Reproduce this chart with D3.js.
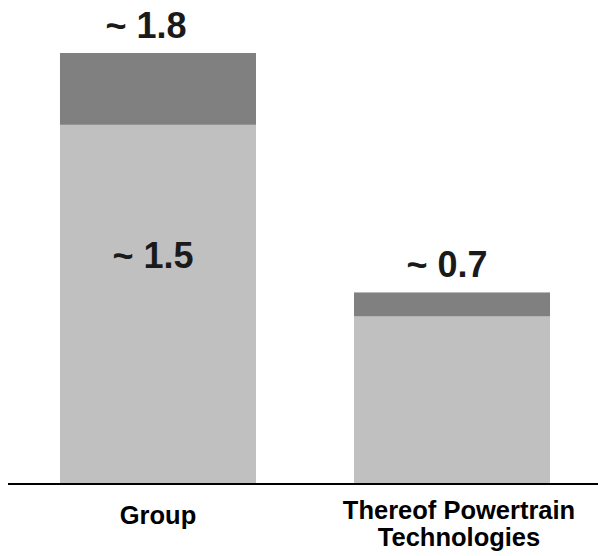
<!DOCTYPE html>
<html>
<head>
<meta charset="utf-8">
<script src="https://cdn.jsdelivr.net/npm/d3@7"></script>
<style>
  body { margin: 0; background: #fff; }
  text { font-family: "Liberation Sans", Arial, sans-serif; font-weight: bold; fill: #000; }
</style>
</head>
<body>
<script>
var categories = ["Group", "Thereof Powertrain Technologies"];
var baseValues = [1.5, 0.7];
var topValues = [0.3, 0.1];
var valueLabels = ["~ 1.8", "~ 0.7"];
var innerLabels = ["~ 1.5", null];

var width = 598;
var height = 556;

var svg = d3.select("body").append("svg")
  .attr("width", width)
  .attr("height", height);

var x = d3.scaleBand()
  .domain(categories)
  .range([10, 600])
  .paddingInner(1 / 3)
  .paddingOuter(0.17);

var y = d3.scaleLinear()
  .domain([0, 1.8])
  .range([484, 53]);

var rows = categories.map(function(c, i) {
  return { cat: c, base: baseValues[i], top: topValues[i], label: valueLabels[i], inner: innerLabels[i] };
});

function mid(d) { return x(d.cat) + x.bandwidth() / 2; }

// light lower part
svg.selectAll("rect.base")
  .data(rows)
  .enter()
  .append("rect")
  .attr("class", "base")
  .attr("x", function(d) { return x(d.cat); })
  .attr("width", x.bandwidth())
  .attr("y", function(d) { return y(d.base); })
  .attr("height", function(d) { return y(0) - y(d.base); })
  .style("fill", "#c0c0c0");

// dark upper part
svg.selectAll("rect.top")
  .data(rows)
  .enter()
  .append("rect")
  .attr("class", "top")
  .attr("x", function(d) { return x(d.cat); })
  .attr("width", x.bandwidth())
  .attr("y", function(d) { return y(d.base + d.top); })
  .attr("height", function(d) { return y(d.base) - y(d.base + d.top); })
  .style("fill", "#808080");

// axis line
svg.append("line")
  .attr("x1", 8)
  .attr("x2", width)
  .attr("y1", y(0))
  .attr("y2", y(0))
  .style("stroke", "#000")
  .style("stroke-width", 2);

// total labels
svg.selectAll("text.total")
  .data(rows)
  .enter()
  .append("text")
  .attr("class", "total")
  .attr("text-anchor", "middle")
  .attr("font-size", 36)
  .attr("x", function(d, i) { return mid(d) - (i === 0 ? 12 : 5); })
  .attr("y", function(d) { return y(d.base + d.top) - 15; })
  .style("fill", "#1a1a1a")
  .text(function(d) { return d.label; });

// inner label
svg.selectAll("text.inner")
  .data(rows.filter(function(d) { return d.inner; }))
  .enter()
  .append("text")
  .attr("class", "inner")
  .attr("text-anchor", "middle")
  .attr("font-size", 36)
  .attr("x", function(d) { return mid(d) - 5; })
  .attr("y", function(d) { return y(d.base) + 143; })
  .style("fill", "#1a1a1a")
  .text(function(d) { return d.inner; });

// category labels
var catText = svg.selectAll("text.cat")
  .data(rows)
  .enter()
  .append("text")
  .attr("class", "cat")
  .attr("text-anchor", "middle")
  .attr("font-size", 25.5)
  .attr("x", mid)
  .attr("y", function(d) { return d.cat === "Group" ? 524 : 519; });

catText.each(function(d) {
  var t = d3.select(this);
  var words = d.cat === "Group" ? ["Group"] : ["Thereof Powertrain", "Technologies"];
  words.forEach(function(w, i) {
    t.append("tspan")
      .attr("x", mid(d) + (d.cat === "Group" ? 0 : 7))
      .attr("dy", i === 0 ? 0 : 27)
      .text(w);
  });
});
</script>
</body>
</html>
